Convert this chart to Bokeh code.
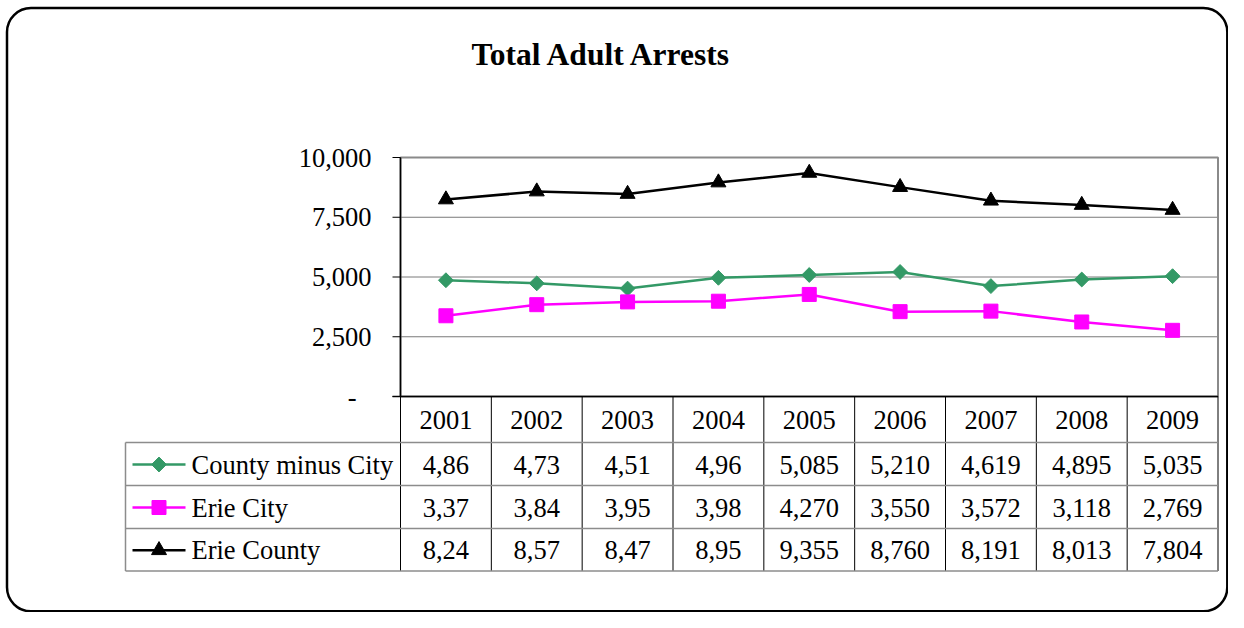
import math
from bokeh.plotting import figure
from bokeh.models import Range1d, BoxAnnotation
from bokeh.core.properties import value
from bokeh.embed import file_html
from bokeh.resources import INLINE

# ---------------- data ----------------
chart_title = "Total Adult Arrests"
years = [2001, 2002, 2003, 2004, 2005, 2006, 2007, 2008, 2009]
year_labels = [str(y) for y in years]
series_names = ["County minus City", "Erie City", "Erie County"]
county_minus_city = [4865, 4734, 4515, 4966, 5085, 5210, 4619, 4895, 5035]
erie_city = [3378, 3842, 3958, 3987, 4270, 3550, 3572, 3118, 2769]
erie_county = [8243, 8576, 8473, 8953, 9355, 8760, 8191, 8013, 7804]
# cell texts as shown in the data table (narrow cells cut the first four)
county_minus_city_text = ["4,86", "4,73", "4,51", "4,96", "5,085", "5,210", "4,619", "4,895", "5,035"]
erie_city_text = ["3,37", "3,84", "3,95", "3,98", "4,270", "3,550", "3,572", "3,118", "2,769"]
erie_county_text = ["8,24", "8,57", "8,47", "8,95", "9,355", "8,760", "8,191", "8,013", "7,804"]
y_ticks = [0, 2500, 5000, 7500, 10000]
y_tick_labels = ["-", "2,500", "5,000", "7,500", "10,000"]

# ---------------- layout (picture pixels) ----------------
W, H = 1228, 612
OFF = 0
PLOT_L, PLOT_R, PLOT_T, PLOT_B = 400, 1217.5, 157, 396
TABLE_L = 125
ROW_LINES = [442, 485, 528, 570.5]
FONT = value("Liberation Serif")
FS = "26.5px"

n = len(years)
CW = (PLOT_R - PLOT_L) / n
K = (y_ticks[-1] - y_ticks[0]) / (PLOT_B - PLOT_T)
x_start = years[0] - (PLOT_L + CW / 2 - OFF) / CW
x_end = x_start + W / CW
y_start = y_ticks[0] - (H - (PLOT_B - OFF)) * K
y_end = y_start + H * K


def X(px):
    return x_start + (px - OFF) / CW


def Y(py):
    return y_end - (py - OFF) * K


p = figure(width=W, height=H, x_range=Range1d(x_start, x_end), y_range=Range1d(y_start, y_end),
           x_axis_type=None, y_axis_type=None, toolbar_location=None, output_backend="svg",
           min_border=0, outline_line_color=None,
           background_fill_color="white", border_fill_color="white")
p.xgrid.visible = False
p.ygrid.visible = False

# outer rounded frame
p.add_layout(BoxAnnotation(left=X(6.5), right=X(1226.8), top=Y(7.5), bottom=Y(610.8),
                           fill_color=None, line_color="black", line_alpha=1.0, line_width=2.5,
                           border_radius=24))

# title
p.text(x=[X(601.5)], y=[Y(53.5)], text=[chart_title], text_font=FONT, text_font_size="31.5px",
       text_font_style="bold", text_align="center", text_baseline="middle", text_color="black")

x_lo = years[0] - 0.5
x_hi = years[-1] + 0.5

# gridlines
p.segment(x0=[x_lo] * 3, x1=[x_hi] * 3, y0=y_ticks[1:-1], y1=y_ticks[1:-1],
          line_color="#7a7a7a", line_width=1)
# plot area border
p.quad(left=[x_lo], right=[x_hi], top=[y_ticks[-1]], bottom=[y_ticks[0]],
       fill_color=None, line_color="#8a8a8a", line_width=2)
# y axis line + ticks
p.segment(x0=[x_lo], x1=[x_lo], y0=[y_ticks[0]], y1=[y_ticks[-1]], line_color="black", line_width=1.5)
p.segment(x0=[X(392)] * len(y_ticks), x1=[x_lo] * len(y_ticks), y0=y_ticks, y1=y_ticks,
          line_color="black", line_width=1)
# x axis line
p.segment(x0=[X(392)], x1=[x_hi], y0=[y_ticks[0]], y1=[y_ticks[0]], line_color="black", line_width=1.5)
# tick labels
tick_x = [X(356)] + [X(371)] * (len(y_ticks) - 1)
p.text(x=tick_x, y=y_ticks, text=y_tick_labels, text_font=FONT, text_font_size=FS,
       text_align="right", text_baseline="middle", text_color="black")

# series
styles = [
    (county_minus_city, county_minus_city_text, "#339966", "square", 10.5, math.pi / 4),
    (erie_city, erie_city_text, "#FF00FF", "square", 14, 0),
    (erie_county, erie_county_text, "black", "triangle", 15, 0),
]
for vals, _, col, mk, sz, ang in styles:
    p.line(years, vals, line_color=col, line_width=2.5)
    p.scatter(years, vals, marker=mk, size=sz, angle=ang, fill_color=col, line_color=col)

# ---------------- data table ----------------
# header year labels
p.text(x=years, y=[Y(419)] * n, text=year_labels, text_font=FONT, text_font_size=FS,
       text_align="center", text_baseline="middle", text_color="black")
# vertical cell lines
vx = [x_lo + i for i in range(n + 1)]
p.segment(x0=vx, x1=vx, y0=[y_ticks[0]] * len(vx), y1=[Y(ROW_LINES[-1])] * len(vx),
          line_color="black", line_width=1)
# horizontal row lines
p.segment(x0=[X(TABLE_L)] * len(ROW_LINES), x1=[x_hi] * len(ROW_LINES),
          y0=[Y(r) for r in ROW_LINES], y1=[Y(r) for r in ROW_LINES],
          line_color="#8c8c8c", line_width=1.5)
p.segment(x0=[X(TABLE_L)], x1=[X(TABLE_L)], y0=[Y(ROW_LINES[0])], y1=[Y(ROW_LINES[-1])],
          line_color="#8c8c8c", line_width=1.5)

for r, (name, (vals, texts, col, mk, sz, ang)) in enumerate(zip(series_names, styles)):
    yc = Y((ROW_LINES[r] + ROW_LINES[r + 1]) / 2 + 0.5)
    p.text(x=years, y=[yc] * n, text=texts, text_font=FONT, text_font_size=FS,
           text_align="center", text_baseline="middle", text_color="black")
    p.segment(x0=[X(132)], x1=[X(185)], y0=[yc], y1=[yc], line_color=col, line_width=2.5)
    p.scatter([X(158.5)], [yc], marker=mk, size=sz, angle=ang, fill_color=col, line_color=col)
    p.text(x=[X(191)], y=[yc], text=[name], text_font=FONT, text_font_size=FS,
           text_align="left", text_baseline="middle", text_color="black")

open("out.html", "w").write(file_html(p, INLINE))
